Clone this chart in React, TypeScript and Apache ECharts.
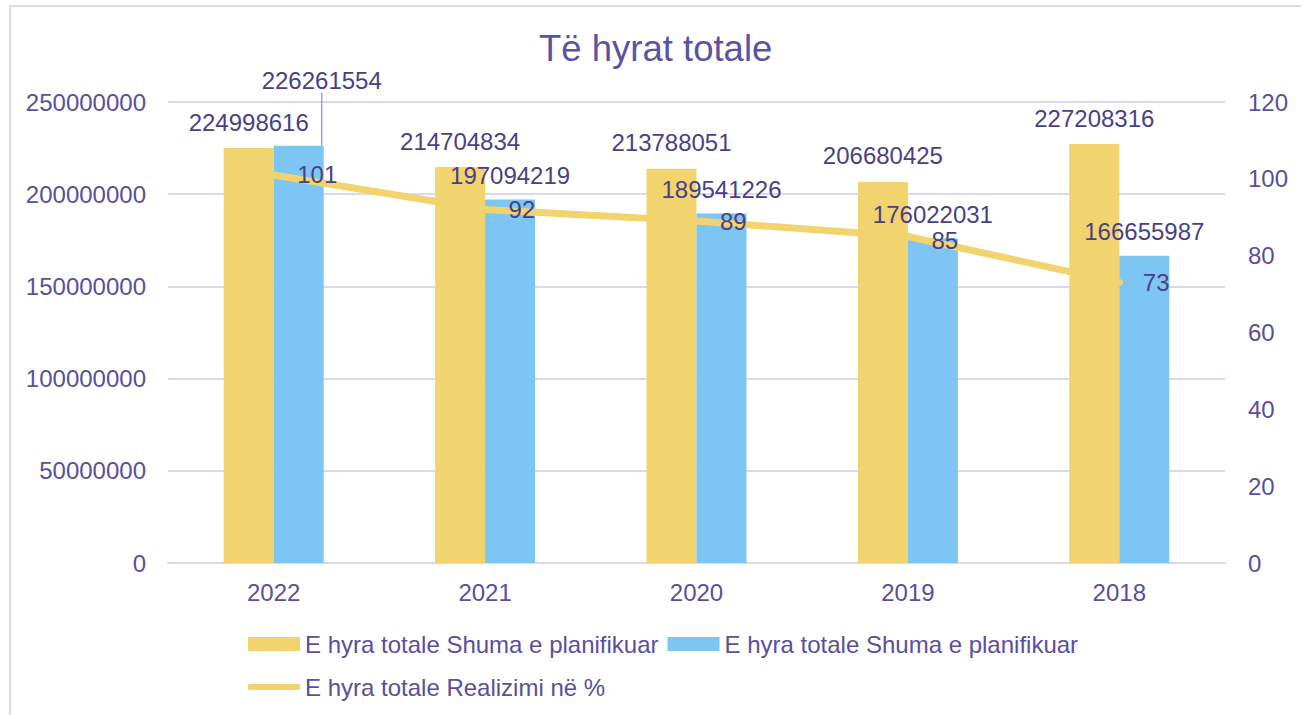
import React, { useEffect, useRef } from "react";
import * as echarts from "echarts";

const categories = ["2022", "2021", "2020", "2019", "2018"];
const plannedValues = [224998616, 214704834, 213788051, 206680425, 227208316];
const realizedValues = [226261554, 197094219, 189541226, 176022031, 166655987];
const percentValues = [101, 92, 89, 85, 73];

const titleText = "Të hyrat totale";
const nameBarA = "E hyra totale Shuma e planifikuar";
const nameBarB = "E hyra totale Shuma e planifikuar ";
const nameLine = "E hyra totale Realizimi në %";

const leftAxis = { min: 0, max: 250000000, interval: 50000000 };
const rightAxis = { min: 0, max: 120, interval: 20 };

const YELLOW = "#F2D46E";
const BLUE = "#7DC5F2";
const AXIS_TEXT = "#5A4E9E";
const LABEL_TEXT = "#4A3F86";
const GRID = "#DAD7EE";
const FONT = "'Liberation Sans', Arial, sans-serif";
const FS = 24;

export default function App() {
  const ref = useRef<HTMLDivElement>(null);

  useEffect(() => {
    if (!ref.current) return;
    const chart = echarts.init(ref.current, undefined, { renderer: "svg" });
    const option: any = {
      animation: false,
      backgroundColor: "#ffffff",
      textStyle: { fontFamily: FONT },
      title: {
        text: titleText,
        left: 539,
        top: 30,
        padding: 0,
        textStyle: { color: "#5A52A3", fontSize: 36.5, fontWeight: "normal", fontFamily: FONT },
      },
      graphic: [
        {
          type: "rect",
          shape: { x: 10, y: 6, width: 1300, height: 720 },
          style: { fill: "none", stroke: GRID, lineWidth: 2 },
          silent: true,
          z: -10,
        },
      ],
      grid: { left: 168, right: 76, top: 102, bottom: 152, containLabel: false },
      legend: [
        {
          data: [nameBarA, nameBarB],
          left: 243,
          top: 627,
          itemWidth: 52,
          itemHeight: 14,
          itemGap: 9,
          icon: "rect",
          formatter: (n: string) => n.trim(),
          textStyle: { color: AXIS_TEXT, fontSize: FS, fontFamily: FONT },
        },
        {
          data: [nameLine],
          left: 243,
          top: 670,
          itemWidth: 52,
          itemHeight: 6,
          icon: "roundRect",
          textStyle: { color: AXIS_TEXT, fontSize: FS, fontFamily: FONT },
        },
      ],
      xAxis: {
        type: "category",
        data: categories,
        axisLine: { lineStyle: { color: GRID, width: 2 } },
        axisTick: { show: false },
        axisLabel: { color: AXIS_TEXT, fontSize: FS, margin: 17, fontFamily: FONT },
      },
      yAxis: [
        {
          type: "value",
          min: leftAxis.min,
          max: leftAxis.max,
          interval: leftAxis.interval,
          axisLine: { show: false },
          axisTick: { show: false },
          splitLine: { lineStyle: { color: GRID, width: 2 } },
          axisLabel: {
            color: AXIS_TEXT,
            fontSize: FS,
            margin: 22,
            fontFamily: FONT,
            formatter: (v: number) => String(v),
          },
        },
        {
          type: "value",
          min: rightAxis.min,
          max: rightAxis.max,
          interval: rightAxis.interval,
          position: "right",
          axisLine: { show: false },
          axisTick: { show: false },
          splitLine: { show: false },
          axisLabel: { color: AXIS_TEXT, fontSize: FS, margin: 23, fontFamily: FONT },
        },
      ],
      series: [
        {
          name: nameBarA,
          type: "bar",
          data: plannedValues,
          barWidth: 50,
          barGap: "0%",
          itemStyle: { color: YELLOW },
          label: {
            show: true,
            position: "top",
            distance: 14,
            color: LABEL_TEXT,
            fontSize: FS,
            fontFamily: FONT,
          },
        },
        {
          name: nameBarB,
          type: "bar",
          data: realizedValues.map((v, i) =>
            i === 0
              ? { value: v, labelLine: { show: true, lineStyle: { color: "#A39DD2", width: 1.5 } } }
              : i === 3
              ? { value: v, label: { offset: [0, -5] } }
              : v
          ),
          barWidth: 50,
          itemStyle: { color: BLUE },
          label: {
            show: true,
            position: "top",
            distance: 14,
            color: LABEL_TEXT,
            fontSize: FS,
            lineHeight: 20,
            fontFamily: FONT,
          },
          labelLayout: (p: any) => (p.dataIndex === 0 ? { dx: 23, dy: -41 } : {}),
        },
        {
          name: nameLine,
          type: "line",
          yAxisIndex: 1,
          data: percentValues.map((v, i) => (i === 3 ? { value: v, label: { offset: [0, 4] } } : v)),
          showSymbol: true,
          symbol: "circle",
          symbolSize: 7,
          lineStyle: { color: YELLOW, width: 7, cap: "round" },
          itemStyle: { color: YELLOW },
          z: 3,
          label: {
            show: true,
            position: "right",
            distance: 20,
            color: LABEL_TEXT,
            fontSize: FS,
            lineHeight: 20,
            fontFamily: FONT,
          },
        },
      ],
    };
    chart.setOption(option);
    return () => chart.dispose();
  }, []);

  return (
    <div
      ref={ref}
      style={{ position: "absolute", left: 0, top: 0, width: 1301, height: 715 }}
    />
  );
}
